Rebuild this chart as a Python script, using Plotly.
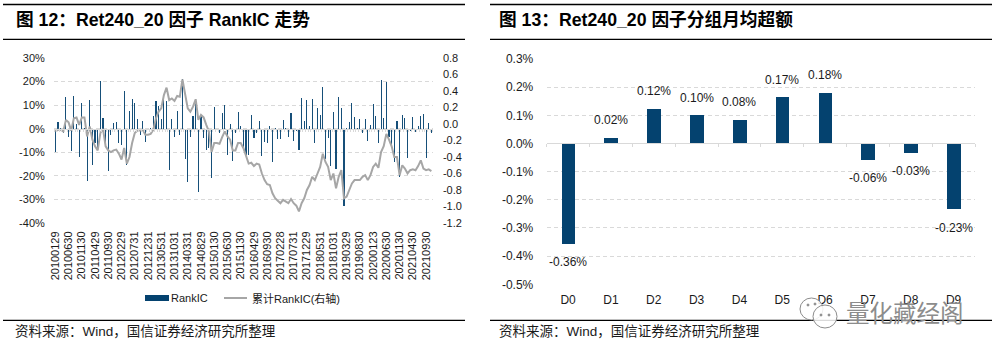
import plotly.graph_objects as go

W, H = 997, 358
def px(x): return x / W
def py(y): return 1 - y / H

rank_ic = [-10,3,0.5,-2,13.5,-3.7,-9.5,14,2,-12,11,0.5,-22,12.3,-15.5,-6,-8,20.3,4.7,-7.5,
 -18,-2.8,2.3,3,-6,-7,16,-15.5,7.5,12.7,11,4,-2.5,3.3,-5.5,0,0.5,5.5,11.7,9.5,
 4,12,11.8,-17.5,4,-3.7,7.5,-2.7,21,-12.7,-22.5,-3.5,5.5,12,-27,6,-4,-9,-8,-21,
 9.3,0,-2,6.7,10,-11,2,-13.5,-2,7.3,1.2,-8,-11,-11,6,-4,-2,3.3,-11.6,-5.5,
 -6,1,-14,0.2,-4.2,-4.2,3.8,0.2,-3.7,6.5,-5.3,-1,-9,13,3.3,12,1,12.5,-6,9,
 5.7,17.5,-13,-4,-16,7.3,-17,13.5,9,-32.6,0.5,2.7,11,5,0.5,4.3,-2,4.3,-5,1.5,
 10.5,5.3,-6,20.5,4.5,20,-3.7,-7,-14,3.3,-20.5,6,4.5,-12.5,-1,5,-1.5,1,5.5,6.3,
 -12.5,2.5,-2]
cum_ic = [-0.09,-0.07,-0.07,-0.09,0.05,0.02,-0.08,0.07,0.08,-0.01,0.08,0.08,-0.15,-0.03,-0.19,-0.27,-0.32,-0.11,-0.06,-0.27,
 -0.32,-0.34,-0.32,-0.31,-0.36,-0.43,-0.29,-0.48,-0.40,-0.23,-0.11,-0.08,-0.08,-0.07,-0.13,-0.13,-0.12,-0.07,0.07,0.15,
 0.19,0.35,0.44,0.29,0.31,0.28,0.34,0.33,0.54,0.35,0.19,0.15,0.21,0.30,0.05,0.11,0.08,-0.01,-0.09,-0.34,
 -0.23,-0.23,-0.24,-0.16,-0.09,-0.15,-0.19,-0.32,-0.32,-0.23,-0.23,-0.29,-0.40,-0.48,-0.47,-0.51,-0.48,-0.49,-0.60,-0.68,
 -0.73,-0.74,-0.84,-0.90,-0.93,-0.96,-0.92,-0.94,-0.96,-0.91,-0.96,-0.99,-1.06,-0.96,-0.90,-0.80,-0.74,-0.64,-0.68,-0.60,
 -0.52,-0.36,-0.46,-0.52,-0.68,-0.60,-0.78,-0.64,-0.56,-0.90,-0.88,-0.80,-0.72,-0.68,-0.68,-0.68,-0.64,-0.62,-0.68,-0.62,
 -0.52,-0.48,-0.53,-0.34,-0.27,-0.12,-0.19,-0.27,-0.40,-0.40,-0.62,-0.50,-0.54,-0.60,-0.56,-0.55,-0.56,-0.51,-0.44,-0.54,
 -0.56,-0.55,-0.57]
date_ticks = ["20100129","20100630","20101130","20110429","20110930","20120229","20120731","20121231",
 "20130531","20131031","20140331","20140829","20150130","20150630","20151130","20160429","20160930",
 "20170228","20170731","20171229","20180531","20181031","20190329","20190830","20200123","20200630",
 "20201130","20210430","20210930"]
groups = ["D0","D1","D2","D3","D4","D5","D6","D7","D8","D9"]
group_excess = [-0.356,0.02,0.124,0.101,0.084,0.165,0.18,-0.058,-0.032,-0.234]
group_labels = ["-0.36%","0.02%","0.12%","0.10%","0.08%","0.17%","0.18%","-0.06%","-0.03%","-0.23%"]
pct_ticks_left = [30,20,10,0,-10,-20,-30,-40]
right_ticks = [0.8,0.6,0.4,0.2,0.0,-0.2,-0.4,-0.6,-0.8,-1.0,-1.2]
pct_ticks_right = [0.3,0.2,0.1,0.0,-0.1,-0.2,-0.3,-0.4,-0.5]

NAVY = "#04426F"
NAVY_THIN = "rgba(4,66,111,0.93)"
GREY = "#A6A6A6"
GRID = "#D9D9D9"
TXT = "#1a1a1a"
FONT = "Liberation Sans, Noto Sans CJK SC, sans-serif"
months = list(range(len(rank_ic)))

fig = go.Figure()
fig.add_trace(go.Bar(x=months, y=rank_ic, marker_color=NAVY_THIN, marker_line_width=0, width=0.42,
                     xaxis="x", yaxis="y", showlegend=False))
fig.add_trace(go.Scatter(x=months, y=cum_ic, mode="lines", line=dict(color=GREY, width=2),
                         xaxis="x2", yaxis="y2", showlegend=False))
fig.add_trace(go.Scatter(x=[None], y=[None], mode="lines", xaxis="x3", yaxis="y", showlegend=False))
fig.add_trace(go.Bar(x=list(range(10)), y=group_excess, marker_color=NAVY, marker_line_width=0, width=0.32,
                     xaxis="x4", yaxis="y3", showlegend=False))
fig.add_trace(go.Scatter(x=[None], y=[None], mode="lines", xaxis="x5", yaxis="y3", showlegend=False))

L0, L1 = 54, 432.7
LT, LB = 58, 223
R0, R1 = 546.7, 975
RT, RB = 59, 284.3
LZERO = LT + (LB - LT) * 30 / 70
RZERO = RT + (RB - RT) * 0.3 / 0.8
lxr = [-0.5, len(rank_ic) - 0.5]
rxr = [-0.5, 9.5]
tf = dict(family=FONT, size=11, color=TXT)
tf2 = dict(family=FONT, size=12, color=TXT)

fig.update_layout(
    width=W, height=H, autosize=False, margin=dict(l=0, r=0, t=0, b=0),
    paper_bgcolor="white", plot_bgcolor="white", bargap=0, font=dict(family=FONT), showlegend=False,
    xaxis=dict(automargin=False, domain=[px(L0), px(L1)], range=lxr, anchor="y", tickmode="array",
               tickvals=[i * 5 for i in range(len(date_ticks))], ticktext=date_ticks,
               tickangle=-90, tickfont=tf, ticks="outside", ticklen=3, tickcolor="rgba(0,0,0,0)",
               showgrid=False, zeroline=False, showline=False),
    xaxis2=dict(automargin=False, range=lxr, overlaying="x", anchor="y2", visible=False),
    xaxis3=dict(automargin=False, range=lxr, overlaying="x", anchor="free", position=py(LZERO), side="bottom",
                tickmode="array", tickvals=[i - 0.5 for i in range(len(rank_ic) + 1)],
                ticks="outside", ticklen=2, tickcolor=GRID, showticklabels=False,
                showline=True, linecolor=GRID, linewidth=1, showgrid=False, zeroline=False),
    yaxis=dict(automargin=False, domain=[py(LB), py(LT)], range=[-40, 30], tickmode="array", tickvals=pct_ticks_left,
               ticktext=[f"{v}%" for v in pct_ticks_left], tickfont=tf, showgrid=True, gridcolor=GRID,
               griddash="4px,3px", gridwidth=1, zeroline=False, showline=False, ticks="outside",
               ticklen=6, tickcolor="rgba(0,0,0,0)", anchor="x"),
    yaxis2=dict(automargin=False, domain=[py(LB), py(LT)], range=[-1.2, 0.8], overlaying="y", side="right", anchor="x",
                tickmode="array", tickvals=right_ticks,
                ticktext=[f"{v:.1f}" for v in right_ticks], tickfont=tf, showgrid=False, zeroline=False,
                showline=False, ticks="outside", ticklen=7, tickcolor="rgba(0,0,0,0)"),
    xaxis4=dict(automargin=False, domain=[px(R0), px(R1)], range=rxr, anchor="y3", tickmode="array", tickvals=list(range(10)),
                ticktext=groups, tickfont=tf2, showgrid=False, zeroline=False, showline=False,
                ticks="outside", ticklen=4, tickcolor="rgba(0,0,0,0)"),
    xaxis5=dict(automargin=False, range=rxr, overlaying="x4", anchor="free", position=py(RZERO), side="bottom",
                tickmode="array", tickvals=[i - 0.5 for i in range(11)], ticks="outside", ticklen=3,
                tickcolor=GRID, showticklabels=False, showline=True, linecolor=GRID, linewidth=1,
                showgrid=False, zeroline=False),
    yaxis3=dict(automargin=False, domain=[py(RB), py(RT)], range=[-0.5, 0.3], anchor="x4", tickmode="array",
                tickvals=pct_ticks_right, ticktext=[f"{v:.1f}%" for v in pct_ticks_right], tickfont=tf2,
                showgrid=True, gridcolor=GRID, griddash="4px,3px", gridwidth=1, zeroline=False,
                showline=False, ticks="outside", ticklen=10, tickcolor="rgba(0,0,0,0)"),
)

shapes = []
def rule(x0, x1, y, w=1.3):
    shapes.append(dict(type="line", xref="paper", yref="paper", x0=px(x0), x1=px(x1), y0=py(y), y1=py(y),
                       line=dict(color="#000000", width=w)))
for a, b in [(3, 465), (490, 992)]:
    rule(a, b, 4.5); rule(a, b, 39.3); rule(a, b, 320.3)

shapes.append(dict(type="rect", xref="paper", yref="paper", x0=px(145), x1=px(169), y0=py(301), y1=py(295),
                   fillcolor=NAVY, line_width=0))
shapes.append(dict(type="line", xref="paper", yref="paper", x0=px(224), x1=px(247), y0=py(298), y1=py(298),
                   line=dict(color=GREY, width=2)))

def circle(x0, y0, x1, y1, fill="rgba(255,255,255,0.85)"):
    shapes.append(dict(type="circle", xref="paper", yref="paper", x0=px(x0), x1=px(x1), y0=py(y1), y1=py(y0),
                       line=dict(color="#8c8c8c", width=1), fillcolor=fill, layer="above"))
circle(800, 298, 823, 320)
circle(813, 305, 837, 328)
for cx, cy in [(808, 305), (815, 304), (821, 315), (829, 315)]:
    circle(cx - 1, cy - 1, cx + 1, cy + 1, fill="#8c8c8c")
fig.update_layout(shapes=shapes)

anns = []
def text(x, y, s, size, bold=False, color=TXT, anchor="left", family=FONT):
    anns.append(dict(xref="paper", yref="paper", x=px(x), y=py(y), text=f"<b>{s}</b>" if bold else s,
                     showarrow=False, xanchor=anchor, yanchor="middle",
                     font=dict(family=family, size=size, color=color), borderpad=0, borderwidth=0))
text(16, 20, "图 12：Ret240_20 因子 RankIC 走势", 17.7, bold=True, color="#000000")
text(499, 20, "图 13：Ret240_20 因子分组月均超额", 17.7, bold=True, color="#000000")
text(15, 331.5, "资料来源：Wind，国信证券经济研究所整理", 13.5)
text(499, 331.5, "资料来源：Wind，国信证券经济研究所整理", 13.5)
text(171, 298, "RankIC", 11)
text(252, 298, "累计RankIC(右轴)", 11)
for i, (v, s) in enumerate(zip(group_excess, group_labels)):
    anns.append(dict(xref="x4", yref="y3", x=i, y=v, text=s, showarrow=False, xanchor="center", yanchor="middle",
                     yshift=17.5 if v > 0 else -18.5, font=tf2))
text(846, 314, "量化藏经阁", 23.5, color="#8c8c8c")
fig.update_layout(annotations=anns)

fig.write_html("out.html", config=dict(displayModeBar=False), post_script="document.body.style.margin='0';")
